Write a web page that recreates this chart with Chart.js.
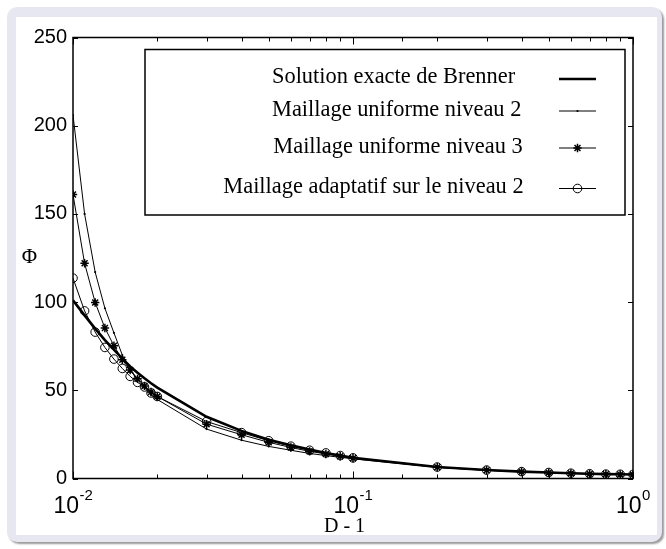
<!DOCTYPE html>
<html><head><meta charset="utf-8">
<style>
html,body{margin:0;padding:0;background:#fff;width:666px;height:549px;overflow:hidden}
#frame{position:absolute;left:7px;top:7px;width:655px;height:535px;background:#e7e7f2;border-radius:10px;box-shadow:2px 2px 2px #9a9a9a}
#inner{position:absolute;left:16px;top:17px;width:641px;height:518px;background:#fff}
#wrap{position:absolute;left:0;top:0;width:666px;height:549px}
</style>
<script src="https://cdn.jsdelivr.net/npm/chart.js@4"></script>
</head><body>
<div id="frame"></div><div id="inner"></div>
<div id="wrap"><canvas id="c" width="666" height="549"></canvas></div>
<script>
const xValues   = [0.01,0.011,0.012,0.013,0.014,0.015,0.016,0.017,0.018,0.019,0.02,0.03,0.04,0.05,0.06,0.07,0.08,0.09,0.1,0.2,0.3,0.4,0.5,0.6,0.7,0.8,0.9,1.0];
const brenner   = [101,92.5,85,78.5,73,68,63.5,60,56.8,54,51.5,35,27,22,18.8,16.4,14.5,13,11.7,6.5,4.8,3.9,3.4,3.0,2.7,2.5,2.4,2.3];
const uniform2  = [206,150,117,96.5,82.6,70,61.5,56,51.5,47.5,44.8,28,21.7,18.2,16,14.2,13,12,11.2,6.3,4.6,3.8,3.3,2.9,2.6,2.4,2.3,2.2];
const uniform3  = [161,122,99.8,85.3,75.3,67.3,61.5,56.5,52.5,49,46.5,30.8,24.8,20.5,17.6,15.4,13.9,12.6,11.5,6.4,4.7,3.8,3.3,2.9,2.6,2.4,2.3,2.2];
const adaptive  = [113.6,95,83,74.3,67.7,62.4,57.9,54.5,51.9,48.5,46.5,32.3,26,21.4,18.3,16,14.5,13,11.7,6.5,4.8,3.9,3.4,3.0,2.7,2.5,2.4,2.3];
const seriesLabels = ['Solution exacte de Brenner','Maillage uniforme niveau 2','Maillage uniforme niveau 3','Maillage adaptatif sur le niveau 2'];
const yTickStep = 50;
const yMin = 0, yMax = 250;
const xMin = 0.01, xMax = 1;
const xMajorTicks = [0.01, 0.1, 1];
const xMajorBase = ['10','10','10'];
const xMajorExp  = ['-2','-1','0'];
const xTitle = 'D - 1';
const yTitle = 'Φ';

const pts = arr => xValues.map((x,i)=>({x:x,y:arr[i]}));

const SERIF = "'Liberation Serif','Times New Roman',serif";
const SANS = "'Liberation Sans',Arial,sans-serif";

const framePlugin = {
  id:'frame',
  afterDatasetsDraw(chart){
    const {ctx, chartArea:a} = chart;
    const xs = chart.scales.x, ys = chart.scales.y;
    ctx.save();
    ctx.strokeStyle='#000'; ctx.lineWidth=1.5;
    ctx.strokeRect(a.left, a.top, a.right-a.left, a.bottom-a.top);
    ctx.lineWidth=1;
    ctx.beginPath();
    xs.ticks.forEach(t=>{
      const v=t.value; const px=Math.round(xs.getPixelForValue(v))+0.5;
      const major = xMajorTicks.some(m=>Math.abs(m-v)/m<1e-6);
      const len = major?7:4;
      ctx.moveTo(px,a.bottom); ctx.lineTo(px,a.bottom-len);
      ctx.moveTo(px,a.top); ctx.lineTo(px,a.top+len);
    });
    ys.ticks.forEach(t=>{
      const py=Math.round(ys.getPixelForValue(t.value))+0.5;
      ctx.moveTo(a.left,py); ctx.lineTo(a.left+5,py);
      ctx.moveTo(a.right,py); ctx.lineTo(a.right-5,py);
    });
    ctx.stroke();
    ctx.fillStyle='#000';
    ctx.textBaseline='alphabetic';
    xMajorTicks.forEach((v,i)=>{
      const px=xs.getPixelForValue(v);
      ctx.font='23px '+SANS;
      const wb=ctx.measureText(xMajorBase[i]).width;
      ctx.font='15px '+SANS;
      const we=ctx.measureText(xMajorExp[i]).width;
      const x0=px-(wb+we)/2;
      ctx.font='23px '+SANS;
      ctx.textAlign='left';
      ctx.fillText(xMajorBase[i], x0, a.bottom+34.5);
      ctx.font='15px '+SANS;
      ctx.fillText(xMajorExp[i], x0+wb+0.5, a.bottom+21);
    });
    ctx.font='20px '+SERIF;
    ctx.textAlign='center';
    ctx.fillText(xTitle, 344.5, 532);
    ctx.font='21px '+SERIF;
    ctx.fillText(yTitle, 29.5, 263);
    ctx.restore();
  },
  afterDraw(chart){
    const {ctx} = chart;
    ctx.save();
    ctx.fillStyle='#fff';
    ctx.fillRect(145,49.5,480,165.5);
    ctx.strokeStyle='#000'; ctx.lineWidth=1.5;
    ctx.strokeRect(145,49.5,480,165.5);
    const rows=[{tx:272,by:82.5,ly:79},{tx:272,by:116,ly:111},{tx:273.3,by:153,ly:148},{tx:223.3,by:193,ly:188.5}];
    ctx.font='22.4px '+SERIF;
    ctx.fillStyle='#000';
    ctx.textAlign='left'; ctx.textBaseline='alphabetic';
    chart.data.datasets.forEach((ds,i)=>{
      const r=rows[i];
      ctx.fillStyle='#000';
      ctx.fillText(ds.label, r.tx, r.by);
      ctx.beginPath();
      ctx.lineWidth=ds.borderWidth; ctx.strokeStyle='#000';
      ctx.moveTo(559,r.ly); ctx.lineTo(596,r.ly); ctx.stroke();
      if(ds.pointRadius>0){
        ctx.fillStyle=ds.pointBackgroundColor; ctx.strokeStyle=ds.pointBorderColor; ctx.lineWidth=ds.pointBorderWidth;
        Chart.helpers.drawPoint(ctx,{pointStyle:ds.pointStyle,radius:ds.pointRadius,rotation:0,borderWidth:ds.pointBorderWidth},577.5,r.ly);
      }
    });
    ctx.restore();
  }
};

new Chart(document.getElementById('c'),{
  type:'line',
  data:{datasets:[
    {label:seriesLabels[0],data:pts(brenner),borderColor:'#000',borderWidth:2.6,pointRadius:0,tension:0},
    {label:seriesLabels[1],data:pts(uniform2),borderColor:'#000',borderWidth:1,pointStyle:'circle',pointRadius:1.1,pointBackgroundColor:'#000',pointBorderColor:'#000',pointBorderWidth:0,tension:0},
    {label:seriesLabels[2],data:pts(uniform3),borderColor:'#000',borderWidth:1,pointStyle:'star',pointRadius:4.2,pointBackgroundColor:'#000',pointBorderColor:'#000',pointBorderWidth:1.5,tension:0},
    {label:seriesLabels[3],data:pts(adaptive),borderColor:'#000',borderWidth:1,pointStyle:'circle',pointRadius:4.3,pointBackgroundColor:'rgba(0,0,0,0)',pointBorderColor:'#000',pointBorderWidth:1,tension:0}
  ]},
  options:{
    responsive:false,animation:false,events:[],
    layout:{padding:{left:0,top:37.5,right:33,bottom:0}},
    plugins:{legend:{display:false},tooltip:{enabled:false}},
    scales:{
      x:{type:'logarithmic',min:xMin,max:xMax,position:'bottom',
         grid:{display:false,drawTicks:false},border:{display:false},
         ticks:{display:false},afterFit(s){s.height=70.5;}},
      y:{type:'linear',min:yMin,max:yMax,position:'left',
         grid:{display:false,drawTicks:false},border:{display:false},
         ticks:{stepSize:yTickStep,color:'#000',padding:6,font:{family:SANS,size:20}},
         afterFit(s){s.width=73;}}
    }
  },
  plugins:[framePlugin]
});
</script>
</body></html>
